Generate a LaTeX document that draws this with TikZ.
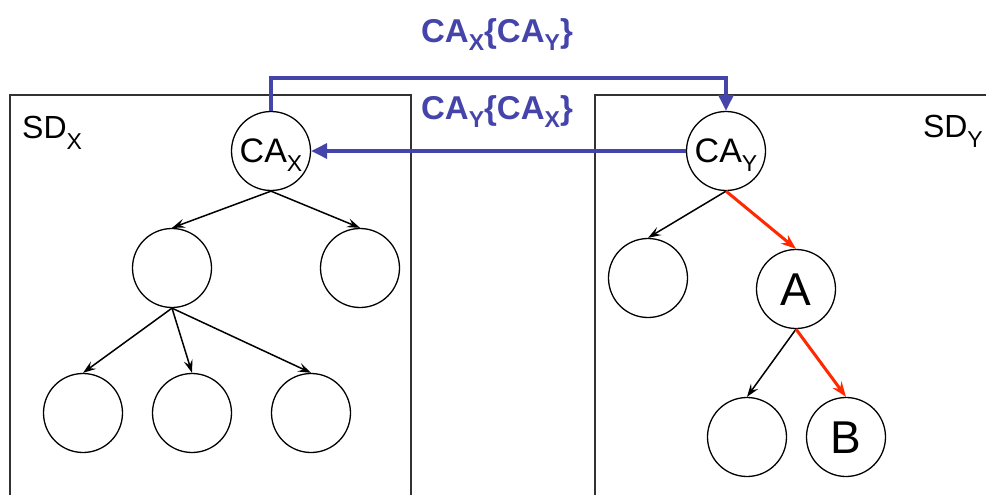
\documentclass[tikz,border=0pt]{standalone}
\usepackage{fontspec}
\setmainfont{Liberation Sans}
\usetikzlibrary{arrows.meta}

\definecolor{linkblue}{RGB}{68,68,170}
\definecolor{pathred}{RGB}{255,40,0}
\definecolor{framegray}{RGB}{50,50,50}

% lowered subscripts
\newcommand{\circsub}[1]{\raisebox{-9pt}{\fontsize{23}{23}\selectfont #1}}
\newcommand{\sdsub}[1]{\raisebox{-10pt}{\fontsize{23}{23}\selectfont #1}}
\newcommand{\linksub}[1]{\raisebox{-8pt}{\fontsize{23}{23}\selectfont\bfseries #1}}

\begin{document}
\begin{tikzpicture}[x=1pt,y=-1pt,
  treenode/.style={circle,draw=black,line width=1.3pt,minimum size=79pt,inner sep=0pt,
    font=\fontsize{34}{34}\selectfont,text height=23pt,text depth=0pt},
  bignode/.style={treenode,font=\fontsize{46}{46}\selectfont,text height=32pt},
  edge/.style={draw=black,line width=1.5pt,-{Stealth[length=13pt,width=9pt,inset=5pt]}},
  hotedge/.style={draw=pathred,line width=3pt,-{Stealth[length=15pt,width=11pt,inset=5pt]}},
  link/.style={draw=linkblue,line width=3.2pt,-{Triangle[length=16pt,width=15pt]}},
  linklabel/.style={text=linkblue,inner sep=0pt,anchor=base,font=\fontsize{33}{33}\selectfont\bfseries},
  domainlabel/.style={inner sep=0pt,font=\fontsize{32}{32}\selectfont},
  frame/.style={draw=framegray,line width=1.2pt}]
\useasboundingbox (0,0) rectangle (986,495);

% security domains
\draw[frame] (10,495) -- (10,95) -- (411,95) -- (411,495);
\draw[frame] (595,495) -- (595,95) -- (986,95);
\node[domainlabel,anchor=base west] (sdx) at (22,139) {SD\sdsub{X}};
\node[domainlabel,anchor=base east] (sdy) at (983,137) {SD\sdsub{Y}};

% domain X tree
\node[treenode] (cax) at (271,151) {CA\circsub{X}};
\node[treenode] (l1) at (172,268) {};
\node[treenode] (l2) at (360,268) {};
\node[treenode] (ll1) at (83,413) {};
\node[treenode] (ll2) at (192,413) {};
\node[treenode] (ll3) at (311,413) {};

% domain Y tree
\node[treenode] (cay) at (726,151) {CA\circsub{Y}};
\node[treenode] (r1) at (648,278) {};
\node[bignode] (a) at (796,289) {A};
\node[treenode] (rl) at (747,437) {};
\node[bignode] (b) at (846,437) {B};

% hierarchy edges
\draw[edge] (cax.south) -- (l1.north);
\draw[edge] (cax.south) -- (l2.north);
\draw[edge] (l1.south) -- (ll1.north);
\draw[edge] (l1.south) -- (ll2.north);
\draw[edge] (l1.south) -- (ll3.north);
\draw[edge] (cay.south) -- (r1.north);
\draw[hotedge] (cay.south) -- (a.north);
\draw[edge] (a.south) -- (rl.north);
\draw[hotedge] (a.south) -- (b.north);

% cross certification
\coordinate (bridge) at (0,78);
\draw[link] (cax.north) |- (cay.north |- bridge) -- (cay.north);
\draw[link] (cay.west) -- (cax.east);
\node[linklabel] (xy) at (497,43) {CA\linksub{X}\{CA\linksub{Y}\}};
\node[linklabel] (yx) at (497,120) {CA\linksub{Y}\{CA\linksub{X}\}};
\end{tikzpicture}
\end{document}
